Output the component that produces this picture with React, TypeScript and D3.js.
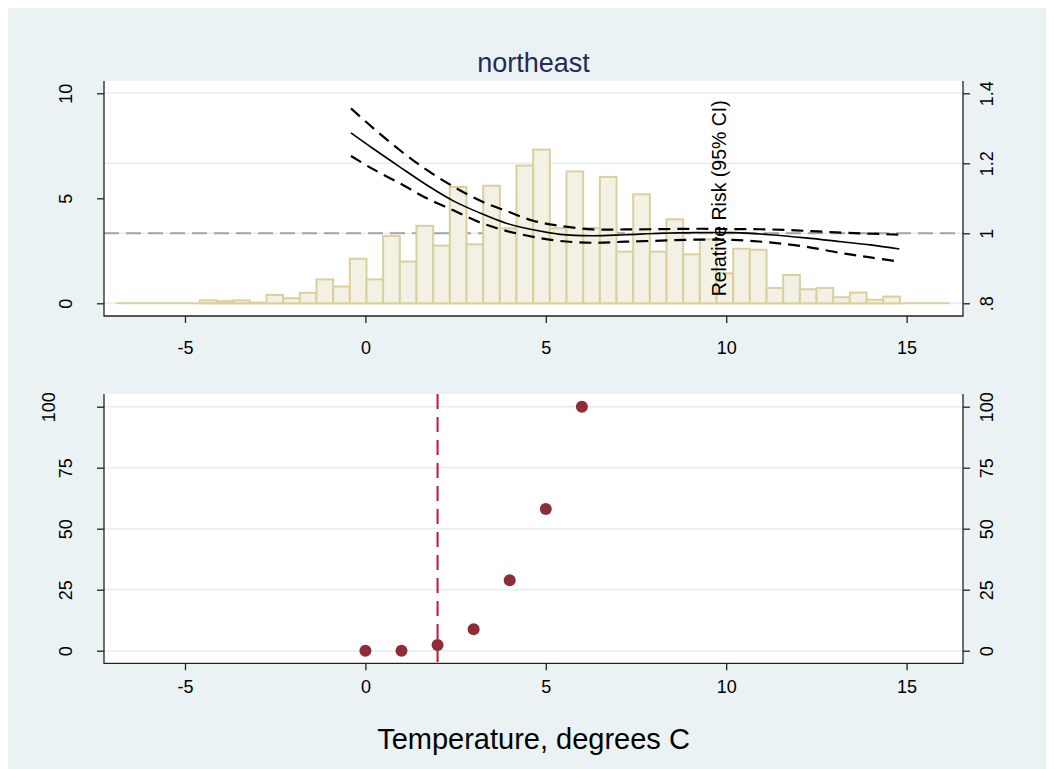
import React, { useEffect, useRef } from 'react';
import * as d3 from 'd3';

// histogram of daily temperature (percent of days), 50 bins
const binStart = -6.9;
const binWidth = 0.462;
const histPercent = [
  0, 0, 0, 0, 0, 0.14, 0.1, 0.14, 0.03, 0.4,
  0.24, 0.5, 1.14, 0.8, 2.12, 1.14, 3.2, 1.99, 3.69, 2.75,
  5.54, 2.81, 5.6, 3.57, 6.56, 7.32, 3.57, 6.28, 3.59, 6.02,
  2.46, 5.19, 2.46, 4.0, 2.33, 3.05, 1.43, 2.6, 2.55, 0.73,
  1.35, 0.67, 0.73, 0.29, 0.51, 0.17, 0.32, 0, 0, 0,
];

// relative risk curve with 95% CI
const rrTemp = [-0.4, 0.2, 0.95, 1.7, 2.45, 3.2, 3.9, 4.65, 5.4, 6.3, 7.2, 8.2, 9.2, 10.2, 11.2, 12.2, 13.2, 14.0, 14.8];
const rrEst = [1.287, 1.243, 1.19, 1.138, 1.092, 1.057, 1.029, 1.01, 0.997, 0.993, 0.996, 1.0, 1.002, 1.002, 0.996, 0.987, 0.976, 0.967, 0.955];
const rrUpper = [1.357, 1.302, 1.238, 1.181, 1.133, 1.092, 1.064, 1.036, 1.021, 1.011, 1.011, 1.012, 1.013, 1.012, 1.011, 1.007, 1.002, 0.999, 0.996];
const rrLower = [1.221, 1.184, 1.143, 1.1, 1.065, 1.03, 1.007, 0.99, 0.978, 0.973, 0.976, 0.979, 0.982, 0.981, 0.974, 0.962, 0.943, 0.931, 0.919];

// lower panel points
const lagTemp = [0, 1, 2, 3, 4, 5, 6];
const lagValue = [0, 0, 2.3, 8.8, 28.9, 58.1, 100];
const thresholdTemp = 2;

const xTicks = [-5, 0, 5, 10, 15];
const histTicks = [0, 5, 10];
const rrTicks = [0.8, 1, 1.2, 1.4];
const pctTicks = [0, 25, 50, 75, 100];

const W = 1046;
const H = 761;
const FONT = '"Liberation Sans", Arial, Helvetica, sans-serif';

export default function App() {
  const svgRef = useRef<SVGSVGElement>(null);

  useEffect(() => {
    if (!svgRef.current) return;
    const svg = d3.select(svgRef.current);
    svg.selectAll('*').remove();

    const plotL = 96;
    const plotR = 955;
    const top = { y0: 73, y1: 308 };
    const bot = { y0: 386, y1: 655.3 };

    const x = d3.scaleLinear().domain([-5, 15]).range([177, 898.6]);
    const yHist = d3.scaleLinear().domain([0, 10]).range([295.3, 85.3]);
    const yRR = d3.scaleLinear().domain([0.8, 1.4]).range([295.3, 85.3]);
    const yPct = d3.scaleLinear().domain([0, 100]).range([642.7, 398.7]);

    // background
    svg.append('rect').attr('width', W).attr('height', H).attr('fill', '#eaf2f3');

    svg.append('text')
      .attr('x', (plotL + plotR) / 2)
      .attr('y', 64)
      .attr('text-anchor', 'middle')
      .attr('font-family', FONT)
      .attr('font-size', 27)
      .attr('fill', '#1f2b58')
      .text('northeast');

    [top, bot].forEach(p => {
      svg.append('rect')
        .attr('x', plotL)
        .attr('y', p.y0)
        .attr('width', plotR - plotL)
        .attr('height', p.y1 - p.y0)
        .attr('fill', '#fff');
    });

    // ---- top panel
    const tp = svg.append('g');
    tp.selectAll('line.grid')
      .data(rrTicks)
      .join('line')
      .attr('x1', plotL).attr('x2', plotR)
      .attr('y1', d => yRR(d)).attr('y2', d => yRR(d))
      .attr('stroke', '#e4edf0')
      .attr('stroke-width', 1.5);

    tp.append('line')
      .attr('x1', plotL).attr('x2', plotR)
      .attr('y1', yRR(1)).attr('y2', yRR(1))
      .attr('stroke', '#a3a3a3')
      .attr('stroke-width', 2)
      .attr('stroke-dasharray', '15 7');

    // empty bins still show their outline along the baseline
    tp.append('line')
      .attr('x1', x(binStart))
      .attr('x2', x(binStart + histPercent.length * binWidth))
      .attr('y1', yHist(0)).attr('y2', yHist(0))
      .attr('stroke', '#d9d09e')
      .attr('stroke-width', 2);

    const bw = x(binWidth) - x(0);
    tp.selectAll('rect.bar')
      .data(histPercent)
      .join('rect')
      .attr('x', (d, i) => x(binStart + i * binWidth))
      .attr('y', d => yHist(d))
      .attr('width', bw)
      .attr('height', d => yHist(0) - yHist(d))
      .attr('fill', '#f3f1e3')
      .attr('stroke', '#d9d09e')
      .attr('stroke-width', 2);

    const line = (vals: number[]) =>
      d3.line<number>()
        .x((d, i) => x(rrTemp[i]))
        .y(d => yRR(d))
        .curve(d3.curveCatmullRom)(vals);

    tp.append('path').attr('d', line(rrUpper)).attr('fill', 'none')
      .attr('stroke', '#000').attr('stroke-width', 2.2).attr('stroke-dasharray', '12 7');
    tp.append('path').attr('d', line(rrLower)).attr('fill', 'none')
      .attr('stroke', '#000').attr('stroke-width', 2.2).attr('stroke-dasharray', '12 7');
    tp.append('path').attr('d', line(rrEst)).attr('fill', 'none')
      .attr('stroke', '#000').attr('stroke-width', 1.6);

    tp.append('text')
      .attr('transform', `translate(${x(10)},${yHist(5)}) rotate(-90)`)
      .attr('text-anchor', 'middle')
      .attr('font-family', FONT)
      .attr('font-size', 19.5)
      .attr('fill', '#000')
      .text('Relative Risk (95% CI)');

    // ---- bottom panel
    const bp = svg.append('g');
    bp.selectAll('line.grid')
      .data(pctTicks)
      .join('line')
      .attr('x1', plotL).attr('x2', plotR)
      .attr('y1', d => yPct(d)).attr('y2', d => yPct(d))
      .attr('stroke', '#e4edf0')
      .attr('stroke-width', 1.5);

    bp.append('line')
      .attr('x1', x(thresholdTemp)).attr('x2', x(thresholdTemp))
      .attr('y1', bot.y0).attr('y2', bot.y1)
      .attr('stroke', '#c8103c')
      .attr('stroke-width', 2)
      .attr('stroke-dasharray', '15 8');

    bp.selectAll('circle')
      .data(lagValue)
      .join('circle')
      .attr('cx', (d, i) => x(lagTemp[i]))
      .attr('cy', d => yPct(d))
      .attr('r', 6)
      .attr('fill', '#8e2d38');

    // ---- axes
    const styleAxis = (g: any) => {
      g.attr('font-family', FONT).attr('font-size', 18);
      g.select('.domain').remove();
      g.selectAll('.tick line').attr('stroke', '#222').attr('stroke-width', 1.3);
      g.selectAll('.tick text').attr('fill', '#000');
    };

    const fmtX = (d: any) => String(d);

    const xTop = svg.append('g').attr('transform', `translate(0,${top.y1})`)
      .call(d3.axisBottom(x).tickValues(xTicks).tickSize(7).tickSizeOuter(0).tickFormat(fmtX));
    styleAxis(xTop);
    xTop.selectAll('.tick text').attr('y', 38).attr('dy', 0);

    const xBot = svg.append('g').attr('transform', `translate(0,${bot.y1})`)
      .call(d3.axisBottom(x).tickValues(xTicks).tickSize(7).tickSizeOuter(0).tickFormat(fmtX));
    styleAxis(xBot);
    xBot.selectAll('.tick text').attr('y', 30).attr('dy', 0);

    const leftLabel = (g: any) => {
      g.selectAll('.tick text')
        .attr('x', 0).attr('y', 0).attr('dy', 0)
        .attr('text-anchor', 'middle')
        .attr('transform', (d: any) => `translate(${String(d).length > 2 ? -49 : -32},0) rotate(-90)`);
    };
    const rightLabel = (g: any) => {
      g.selectAll('.tick text')
        .attr('x', 0).attr('y', 0).attr('dy', 0)
        .attr('text-anchor', 'middle')
        .attr('transform', 'translate(30,0) rotate(-90)');
    };

    const yTopL = svg.append('g').attr('transform', `translate(${plotL},0)`)
      .call(d3.axisLeft(yHist).tickValues(histTicks).tickSize(7).tickSizeOuter(0).tickFormat(fmtX));
    styleAxis(yTopL);
    leftLabel(yTopL);

    const yTopR = svg.append('g').attr('transform', `translate(${plotR},0)`)
      .call(d3.axisRight(yRR).tickValues(rrTicks).tickSize(7).tickSizeOuter(0)
        .tickFormat((d: any) => String(d).replace(/^0/, '')));
    styleAxis(yTopR);
    rightLabel(yTopR);

    const yBotL = svg.append('g').attr('transform', `translate(${plotL},0)`)
      .call(d3.axisLeft(yPct).tickValues(pctTicks).tickSize(7).tickSizeOuter(0).tickFormat(fmtX));
    styleAxis(yBotL);
    leftLabel(yBotL);

    const yBotR = svg.append('g').attr('transform', `translate(${plotR},0)`)
      .call(d3.axisRight(yPct).tickValues(pctTicks).tickSize(7).tickSizeOuter(0).tickFormat(fmtX));
    styleAxis(yBotR);
    rightLabel(yBotR);

    // axis lines (left, bottom, right)
    [top, bot].forEach(p => {
      svg.append('path')
        .attr('d', `M${plotL},${p.y0}V${p.y1}H${plotR}V${p.y0}`)
        .attr('fill', 'none')
        .attr('stroke', '#222')
        .attr('stroke-width', 1.3);
    });

    svg.append('text')
      .attr('x', (plotL + plotR) / 2)
      .attr('y', 741.3)
      .attr('text-anchor', 'middle')
      .attr('font-family', FONT)
      .attr('font-size', 29)
      .attr('fill', '#000')
      .text('Temperature, degrees C');
  }, []);

  return <svg ref={svgRef} width={W} height={H} style={{ display: 'block' }} />;
}
